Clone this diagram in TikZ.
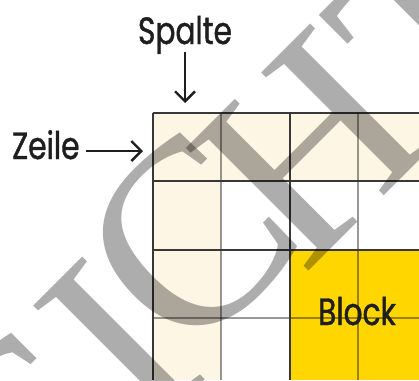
\documentclass[tikz,border=0pt]{standalone}
\usepackage{fontspec}
\setmainfont{Poppins}[FakeStretch=0.78,FakeBold=1]
\newfontfamily\wmfont{Liberation Serif}
\usetikzlibrary{arrows.meta}
\definecolor{cream}{RGB}{254,246,228}
\definecolor{blockyellow}{RGB}{255,214,0}
\definecolor{ink}{RGB}{30,30,30}
\begin{document}
\begin{tikzpicture}[x=1pt,y=-1pt,
  lbl/.style={inner sep=0pt, text=ink, font=\fontsize{38}{40}\selectfont},
  pointer/.style={line width=2.4pt, ink, -{Straight Barb[length=10pt,width=20pt]}},
  darkline/.style={line width=2pt, black!78},
  thinline/.style={line width=2pt, black, opacity=0.4},
  wm/.style={rotate=45, inner sep=0pt, text=black, text opacity=0.32, font=\wmfont\fontsize{265}{265}\selectfont}
]
\useasboundingbox (0,0) rectangle (419,380);
\clip (0,0) rectangle (419,380);
\fill[white] (0,0) rectangle (419,380);
% fills
\fill[cream] (152.5,112.5) rectangle (419,181);
\fill[cream] (152.5,181) rectangle (221,380);
\fill[blockyellow] (289.5,249.5) rectangle (419,380);
% thin cell lines
\draw[thinline] (221,112.5) -- (221,380);
\draw[thinline] (358,112.5) -- (358,380);
\draw[thinline] (152.5,318) -- (419,318);
% block lines
\draw[darkline] (152.5,112.5) -- (152.5,380);
\draw[darkline] (289.5,112.5) -- (289.5,380);
\draw[darkline] (152.5,112.5) -- (419,112.5);
\draw[darkline] (152.5,181) -- (419,181);
\draw[darkline] (152.5,249.5) -- (419,249.5);
% labels
\node[lbl, anchor=base] (spalte) at (185,44) {Spalte};
\coordinate (spalteend) at (185,103);
\draw[pointer] ([yshift=-8pt]spalte.base) -- (spalteend);
\node[lbl, anchor=base west] (zeile) at (12,159) {Zeile};
\coordinate (zeileend) at (143,151);
\draw[pointer] ([xshift=6pt,yshift=8pt]zeile.base east) -- (zeileend);
\node[lbl, anchor=base] (block) at (357,325) {Block};
% watermark
\node[wm, anchor=base] (wmI) at (181,404) {I};
\node[wm, anchor=base east] (wmANS) at (wmI.base west) {ANS};
\node[wm, anchor=base] (wmC) at (250,302) {C};
\node[wm, anchor=base] (wmH) at (371,209) {H};
\node[wm, anchor=base west] (wmT) at (wmH.base east) {T};
\end{tikzpicture}
\end{document}
